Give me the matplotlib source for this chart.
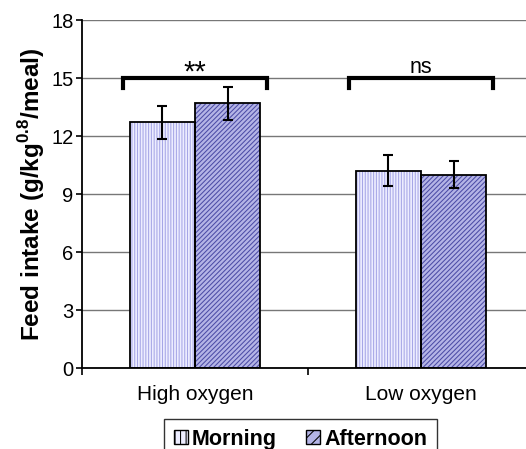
import matplotlib
matplotlib.use('Agg')
import matplotlib.pyplot as plt
import numpy as np
from matplotlib.patches import Patch

plt.rcParams['font.family'] = ['Liberation Sans', 'DejaVu Sans']
plt.rcParams['mathtext.fontset'] = 'custom'
plt.rcParams['mathtext.rm'] = 'Liberation Sans'
plt.rcParams['mathtext.bf'] = 'Liberation Sans:bold'
plt.rcParams['hatch.linewidth'] = 0.75

# data
groups = ['High oxygen', 'Low oxygen']
series = ['Morning', 'Afternoon']
morning = [12.7, 10.2]
morning_err = [0.85, 0.8]
afternoon = [13.7, 10.0]
afternoon_err = [0.85, 0.7]
sig_labels = ['**', 'ns']
sig_level = 15.0
yticks = [0, 3, 6, 9, 12, 15, 18]

fig = plt.figure(figsize=(5.26, 4.49), dpi=100)
ax = fig.add_axes([82 / 526, 81 / 449, 452 / 526, 348 / 449])

x = np.arange(len(groups)) + 0.5
width = 0.288

styles = [('#ededff', '#a6a6e6', '|' * 6), ('#b4b4e6', '#4c4ca6', '/' * 7)]
vals = [morning, afternoon]
errs = [morning_err, afternoon_err]
for i in range(2):
    pos = x + (i - 0.5) * width
    face, hcol, hatch = styles[i]
    ax.bar(pos, vals[i], width, color=face, edgecolor=hcol, hatch=hatch, linewidth=0, zorder=2)
    ax.bar(pos, vals[i], width, fill=False, edgecolor='black', linewidth=1.3, zorder=3)
    ax.errorbar(pos, vals[i], yerr=errs[i], fmt='none', ecolor='black', elinewidth=1.5,
                capsize=3.5, capthick=1.5, zorder=4)

# significance brackets
for k in range(len(groups)):
    left = x[k] - 0.32
    right = x[k] + 0.32
    ax.plot([left, left, right, right], [sig_level - 0.5, sig_level, sig_level, sig_level - 0.5],
            color='black', linewidth=3, solid_joinstyle='miter', zorder=5)
for k, lab in enumerate(sig_labels):
    if lab == '**':
        ax.text(x[k], 14.85, lab, ha='center', va='baseline', fontsize=21)
    else:
        ax.text(x[k], 15.27, lab, ha='center', va='baseline', fontsize=15.5)

ax.set_ylim(0, 18)
ax.set_xlim(0, 2)
ax.set_yticks(yticks)
ax.yaxis.grid(True, color='#777777', linewidth=1)
ax.set_axisbelow(True)
ax.set_xticks([0, 1, 2])
ax.set_xticklabels([])
ax.set_xticks(x, minor=True)
ax.set_xticklabels(groups, minor=True)
ax.tick_params(axis='x', which='minor', length=0, pad=12, labelsize=15)
ax.tick_params(axis='x', which='major', length=5, width=1.2)
ax.tick_params(axis='y', length=4, width=1.2, labelsize=14.5, pad=2)
ax.spines['right'].set_visible(False)
ax.spines['top'].set_visible(False)
ax.spines['left'].set_linewidth(1.3)
ax.spines['bottom'].set_linewidth(1.3)
ax.set_ylabel(r'Feed intake (g/kg$^{\mathbf{0.8}}$/meal)', fontsize=17.5, fontweight='bold', labelpad=3)

handles = [Patch(facecolor=styles[i][0], edgecolor='black', hatch=styles[i][2][:3], linewidth=1)
           for i in range(2)]
leg = fig.legend(handles, series, loc='upper left', bbox_to_anchor=(164 / 526, 1 - 419 / 449),
                 ncol=2, frameon=True, fancybox=False, edgecolor='black',
                 prop={'weight': 'bold', 'size': 15.5}, handlelength=0.65, handleheight=0.65,
                 handletextpad=0.2, columnspacing=1.35, borderpad=0.45, borderaxespad=0)
leg.get_frame().set_linewidth(1)

fig.savefig('out.png', dpi=100)
